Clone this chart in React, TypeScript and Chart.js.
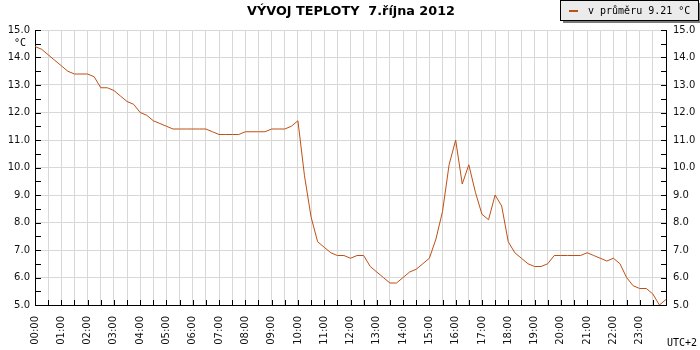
import { useEffect, useRef } from 'react';
import { Chart, registerables } from 'chart.js';

Chart.register(...registerables);

const TITLE = 'VÝVOJ TEPLOTY  7.října 2012';
const LEGEND_LABEL = 'v průměru 9.21 °C';
const UNIT_LABEL = '°C';
const ZONE_LABEL = 'UTC+2';

const STEP_MINUTES = 15;

// temperature every 15 minutes, 00:00 .. 24:00
const temps = [
  14.4, 14.3, 14.1, 13.9,
  13.7, 13.5, 13.4, 13.4,
  13.4, 13.3, 12.9, 12.9,
  12.8, 12.6, 12.4, 12.3,
  12.0, 11.9, 11.7, 11.6,
  11.5, 11.4, 11.4, 11.4,
  11.4, 11.4, 11.4, 11.3,
  11.2, 11.2, 11.2, 11.2,
  11.3, 11.3, 11.3, 11.3,
  11.4, 11.4, 11.4, 11.5,
  11.7, 9.7, 8.2, 7.3,
  7.1, 6.9, 6.8, 6.8,
  6.7, 6.8, 6.8, 6.4,
  6.2, 6.0, 5.8, 5.8,
  6.0, 6.2, 6.3, 6.5,
  6.7, 7.4, 8.4, 10.1,
  11.0, 9.4, 10.1, 9.1,
  8.3, 8.1, 9.0, 8.6,
  7.3, 6.9, 6.7, 6.5,
  6.4, 6.4, 6.5, 6.8,
  6.8, 6.8, 6.8, 6.8,
  6.9, 6.8, 6.7, 6.6,
  6.7, 6.5, 6.0, 5.7,
  5.6, 5.6, 5.4, 5.0,
  5.2,
];

const timeLabels = temps.map((_, i) => {
  const m = i * STEP_MINUTES;
  return `${String(Math.floor(m / 60)).padStart(2, '0')}:${String(m % 60).padStart(2, '0')}`;
});

const Y_MIN = 5;
const Y_MAX = 15;

const LINE_COLOR = '#bf4f14';
const GRID_COLOR = '#d8d8d8';
const TICK_FONT = { family: '"DejaVu Sans", Verdana, sans-serif', size: 10 };

const decorPlugin = {
  id: 'decor',
  afterDraw(chart: any) {
    const ctx = chart.ctx as CanvasRenderingContext2D;
    const { left, right, bottom } = chart.chartArea;
    const ys = chart.scales.y;
    const xs = chart.scales.x;
    ctx.save();
    // inward tick marks
    ctx.strokeStyle = '#000';
    ctx.lineWidth = 1;
    ctx.beginPath();
    for (let v = Y_MIN; v <= Y_MAX; v += 0.5) {
      const py = Math.round(ys.getPixelForValue(v)) + 0.5;
      ctx.moveTo(left, py);
      ctx.lineTo(left + 6, py);
      ctx.moveTo(right + 1, py);
      ctx.lineTo(right - 5, py);
    }
    for (let i = 0; i < timeLabels.length; i += 2) {
      const px = Math.round(xs.getPixelForValue(i)) + 0.5;
      ctx.moveTo(px, bottom + 1);
      ctx.lineTo(px, bottom - 5);
    }
    ctx.stroke();

    // title
    ctx.fillStyle = '#000';
    ctx.font = 'bold 12.8px "DejaVu Sans", Verdana, sans-serif';
    ctx.textAlign = 'center';
    ctx.textBaseline = 'middle';
    ctx.fillText(TITLE, 351, 12);

    // unit and zone
    ctx.font = '10px "DejaVu Sans Mono", monospace';
    ctx.fillStyle = '#000';
    ctx.fillText(UNIT_LABEL, 20, 43);
    ctx.fillText(ZONE_LABEL, 682, 343);

    // legend box
    ctx.fillStyle = '#7a7a7a';
    ctx.fillRect(563, 3, 137, 20);
    ctx.fillStyle = '#ebebeb';
    ctx.fillRect(560, 0, 139, 21);
    ctx.strokeStyle = '#000';
    ctx.strokeRect(560.5, 0.5, 138, 20);
    ctx.strokeStyle = LINE_COLOR;
    ctx.lineWidth = 2;
    ctx.beginPath();
    ctx.moveTo(569, 11);
    ctx.lineTo(578, 11);
    ctx.stroke();
    ctx.fillStyle = '#000';
    ctx.textAlign = 'left';
    ctx.fillText(LEGEND_LABEL, 588, 11);
    ctx.restore();
  },
};

export default function App() {
  const ref = useRef<HTMLCanvasElement | null>(null);

  useEffect(() => {
    if (!ref.current) return;
    const chart = new Chart(ref.current, {
      type: 'line',
      data: {
        labels: timeLabels,
        datasets: [
          {
            data: temps,
            borderColor: LINE_COLOR,
            borderWidth: 1,
            pointRadius: 0,
            tension: 0,
            fill: false,
          },
        ],
      },
      options: {
        animation: false,
        responsive: false,
        maintainAspectRatio: false,
        layout: { padding: { top: 30, left: 0, right: 0, bottom: 0 } },
        plugins: {
          legend: { display: false },
          title: { display: false },
          tooltip: { enabled: false },
        },
        scales: {
          x: {
            type: 'category',
            offset: false,
            grid: {
              color: (c: any) =>
                c.index % 2 === 0 && c.index > 0 && c.index < timeLabels.length - 1
                  ? GRID_COLOR
                  : 'rgba(0,0,0,0)',
              drawTicks: false,
            },
            border: { color: '#000' },
            ticks: {
              autoSkip: false,
              maxRotation: 90,
              minRotation: 90,
              padding: 11,
              color: '#111',
              font: TICK_FONT,
              callback: (_v: any, i: number) =>
                i % 4 === 0 && i < timeLabels.length - 1 ? timeLabels[i] : '',
            },
            afterFit: (s: any) => {
              s.height = 45;
            },
          },
          y: {
            position: 'left',
            min: Y_MIN,
            max: Y_MAX,
            ticks: {
              stepSize: 1,
              padding: 5,
              color: '#111',
              font: TICK_FONT,
              callback: (v: any) => Number(v).toFixed(1),
            },
            grid: {
              color: (c: any) => (c.tick && c.tick.value === Y_MIN ? 'rgba(0,0,0,0)' : GRID_COLOR),
              drawTicks: false,
            },
            border: { color: '#000' },
            afterFit: (s: any) => {
              s.width = 35;
            },
          },
          y2: {
            position: 'right',
            min: Y_MIN,
            max: Y_MAX,
            ticks: {
              stepSize: 1,
              padding: 7,
              color: '#111',
              font: TICK_FONT,
              callback: (v: any) => Number(v).toFixed(1),
            },
            grid: { drawOnChartArea: false, drawTicks: false },
            border: { color: '#000' },
            afterFit: (s: any) => {
              s.width = 34;
            },
          },
        },
      },
      plugins: [decorPlugin],
    });
    return () => chart.destroy();
  }, []);

  return (
    <div style={{ position: 'absolute', left: 0, top: 0, width: 700, height: 350, background: '#fff' }}>
      <canvas ref={ref} width={700} height={350} style={{ display: 'block' }} />
    </div>
  );
}
